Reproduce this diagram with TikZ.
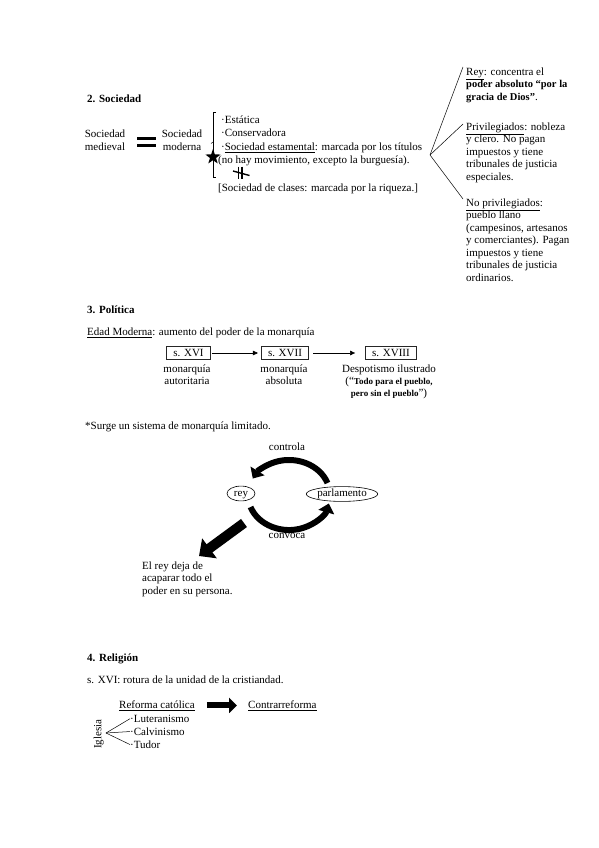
\documentclass[tikz,border=0pt]{standalone}
\usepackage{fontspec}
\setmainfont{Liberation Serif}
\usetikzlibrary{arrows.meta,shapes.geometric}
\begin{document}
\begin{tikzpicture}[x=1pt,y=-1pt,
  every node/.style={inner sep=0pt,font=\fontsize{11}{12.6}\selectfont},
  tl/.style={anchor=mid west},
  tc/.style={anchor=mid},
  head/.style={anchor=mid west,font=\fontsize{11}{12.6}\selectfont\bfseries},
  sbox/.style={draw=black!85,line width=1.2pt,inner xsep=6.5pt,inner ysep=2.5pt,text height=7.5pt,text depth=0.5pt},
  oval/.style={draw,ellipse,line width=0.6pt,fill=white,inner sep=0.5pt,minimum height=13pt,text height=7.5pt,text depth=2pt},
  thinarrow/.style={line width=0.5pt,-{Triangle[length=5pt,width=4.5pt]}},
  cycarrow/.style={line width=6pt,-{Triangle[length=9pt,width=16pt]}},
  bigarrow/.style={line width=10pt,-{Triangle[length=13pt,width=24pt]}},
  medarrow/.style={line width=6pt,-{Triangle[length=8pt,width=15pt]}},
  tree/.style={line width=0.5pt}
]
\path[use as bounding box] (0,0) rectangle (599,848);

% ---------- 2. Sociedad ----------
\node[head] (h2) at (87,100) {2. Sociedad};
\node[tc] (med1) at (105,135) {Sociedad};
\node[tc] (med2) at (105,148) {medieval};
\fill (137,136.5) rectangle (156,140);
\fill (137,143.5) rectangle (156,147);
\node[tc] (mod1) at (182,135) {Sociedad};
\node[tc] (mod2) at (182,148) {moderna};
\draw[line width=0.5pt] (216,112) -- (213,112) -- (213,177) -- (216,177);
\draw[line width=0.5pt] (213,142) -- (211,143.5);
\node[star,star points=5,star point ratio=2.5,fill=black,minimum size=16pt,inner sep=0pt] (star) at (213,157) {};
\node[tl] (l1) at (221,121) {·Estática};
\node[tl] (l2) at (221,134) {·Conservadora};
\node[tl] (l3) at (221,148) {·\underline{Sociedad estamental}: marcada por los títulos};
\node[tl] (l4) at (218,161) {(no hay movimiento, excepto la burguesía).};
\draw[line width=1.6pt] (238.5,166.5) -- (238.5,178.5);
\draw[line width=1.6pt] (242,166.5) -- (242,178.5);
\draw[line width=1.4pt] (233,171) -- (249.5,175.5);
\node[tl] (l5) at (218,189) {[Sociedad de clases: marcada por la riqueza.]};

% right column
\coordinate (apex) at (430,155);
\coordinate (t1) at (463,67);
\coordinate (t2) at (463,124);
\coordinate (t3) at (463,199);
\draw[tree] (apex) -- (t1);
\draw[tree] (apex) -- (t2);
\draw[tree] (apex) -- (t3);
\node[tl] (r1) at (466,73) {\underline{Rey}: concentra el};
\node[tl] (r2) at (466,85.5) {\bfseries\fontsize{10.5}{12}\selectfont poder absoluto “por la};
\node[tl] (r3) at (466,98) {{\bfseries\fontsize{10.5}{12}\selectfont gracia de Dios”}.};
\node[tl] (p1) at (466,128) {\underline{Privilegiados}: nobleza};
\node[tl] (p2) at (466,140.5) {y clero. No pagan};
\node[tl] (p3) at (466,153) {impuestos y tiene};
\node[tl] (p4) at (466,165.5) {tribunales de justicia};
\node[tl] (p5) at (466,178) {especiales.};
\node[tl] (n1) at (466,204) {\underline{No privilegiados}:};
\node[tl] (n2) at (466,216.5) {pueblo llano};
\node[tl] (n3) at (466,229) {(campesinos, artesanos};
\node[tl] (n4) at (466,241.5) {y comerciantes). Pagan};
\node[tl] (n5) at (466,254) {impuestos y tiene};
\node[tl] (n6) at (466,266.5) {tribunales de justicia};
\node[tl] (n7) at (466,279) {ordinarios.};

% ---------- 3. Política ----------
\node[head] (h3) at (87,311) {3. Política};
\node[tl] (edad) at (87,333) {\underline{Edad Moderna}: aumento del poder de la monarquía};
\node[sbox] (b1) at (188.5,353) {s. XVI};
\node[sbox] (b2) at (285,353) {s. XVII};
\node[sbox] (b3) at (391,353) {s. XVIII};
\draw[thinarrow,shorten <=1pt,shorten >=3pt] (b1) -- (b2);
\draw[thinarrow,shorten <=4pt,shorten >=10pt] (b2) -- (b3);
\node[tc] (a1) at (187,370) {monarquía};
\node[tc] (a2) at (187,382) {autoritaria};
\node[tc] (c1) at (284,370) {monarquía};
\node[tc] (c2) at (284,382) {absoluta};
\node[tc] (d1) at (389,370) {Despotismo ilustrado};
\node[tc] (d2) at (389,382) {(“{\bfseries\fontsize{9}{10}\selectfont Todo para el pueblo,}};
\node[tc] (d3) at (389,394) {{\bfseries\fontsize{9}{10}\selectfont pero sin el pueblo}”)};

\node[tl] (surge) at (85,427) {*Surge un sistema de monarquía limitado.};
\node[tc] (ctrl) at (287,448) {controla};
\coordinate (u0) at (327.5,483);
\coordinate (w0) at (250.5,507);
\draw[cycarrow] (u0) arc[start angle=-20,end angle=-152,x radius=41,y radius=35];
\draw[cycarrow] (w0) arc[start angle=160,end angle=14,x radius=41,y radius=35];
\node[oval,minimum width=28pt] (rey) at (241,493.5) {rey};
\node[oval,minimum width=70pt] (parl) at (342,494) {parlamento};
\node[tc] (conv) at (287,536) {convoca};
\coordinate (ba0) at (244,523);
\coordinate (ba1) at (199,556);
\draw[bigarrow] (ba0) -- (ba1);
\node[tl] (e1) at (142,567) {El rey deja de};
\node[tl] (e2) at (142,579.5) {acaparar todo el};
\node[tl] (e3) at (142,592) {poder en su persona.};

% ---------- 4. Religión ----------
\node[head] (h4) at (87,659) {4. Religión};
\node[tl] (s16) at (87,681) {s. XVI: rotura de la unidad de la cristiandad.};
\node[tl] (ref) at (119,706) {\underline{Reforma católica}};
\node[tl] (contra) at (248,706) {\underline{Contrarreforma}};
\draw[medarrow,shorten <=12pt,shorten >=11pt] (ref.east) -- (contra.west);
\node[tc,rotate=90] (igl) at (99,734) {Iglesia};
\coordinate (iap) at (106,733);
\node[tl] (lut) at (130,720) {·Luteranismo};
\node[tl] (cal) at (130,733) {·Calvinismo};
\node[tl] (tud) at (130,746) {·Tudor};
\draw[tree] (iap) -- (lut.west);
\draw[tree] (iap) -- (cal.west);
\draw[tree] (iap) -- (tud.west);
\end{tikzpicture}
\end{document}
